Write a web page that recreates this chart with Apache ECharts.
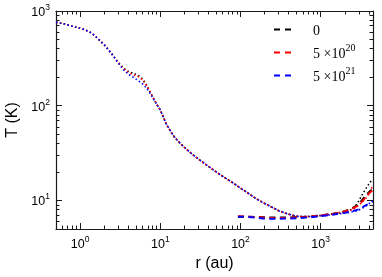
<!DOCTYPE html>
<html><head><meta charset="utf-8">
<script src="https://cdn.jsdelivr.net/npm/echarts@6/dist/echarts.min.js"></script>
<style>html,body{margin:0;padding:0;background:#fff}#c{width:382px;height:277px}</style>
</head><body><div id="c"></div>
<script>
// ---- data (r in au, T in K) ----
const rMain = [0.5, 0.6, 0.75, 0.9, 1.1, 1.3, 1.5, 1.8, 2.1, 2.5, 3.0, 3.5, 4.0, 4.6, 5.3, 6.0, 6.7, 7.4, 8.2, 9.0, 10, 12, 14.5, 17, 20, 25, 30, 38, 46, 55, 68, 80, 100, 120, 150, 190, 240, 300, 380, 500, 650, 800, 1000, 1300, 1600, 2000, 2500, 2900, 3200, 3500, 3850, 4150, 4450];
const tDot0  = [760, 740, 700, 672, 642, 605, 555, 480, 420, 350, 285, 248, 230, 220, 210, 192, 166, 142, 120, 104, 90, 63, 48.5, 41.5, 36.3, 30.8, 27.3, 23.6, 21, 18.9, 16.8, 15.4, 13.5, 12.2, 10.7, 9.5, 8.6, 7.8, 7.25, 6.8, 6.75, 6.8, 6.95, 7.15, 7.35, 7.6, 8.1, 9.4, 11.0, 12.5, 14.2, 15.6, 16.8];
const tDot20 = [760, 740, 700, 672, 642, 605, 555, 480, 420, 350, 285, 246, 224, 212, 203, 188, 165, 142, 120, 104, 90, 63, 48.5, 41.5, 36.3, 30.8, 27.3, 23.6, 21, 18.9, 16.8, 15.4, 13.5, 12.2, 10.7, 9.5, 8.6, 7.8, 7.25, 6.8, 6.75, 6.8, 6.95, 7.15, 7.35, 7.6, 8.0, 8.7, 9.4, 10.1, 11.1, 12.9, 14.0];
const tDot21 = [760, 740, 700, 672, 642, 605, 555, 480, 420, 350, 280, 238, 214, 200, 184, 170, 154, 137, 118, 104, 90, 63, 48.5, 41.5, 36.3, 30.8, 27.3, 23.6, 21, 18.9, 16.8, 15.4, 13.5, 12.2, 10.7, 9.5, 8.6, 7.8, 7.25, 6.8, 6.75, 6.8, 6.9, 7.05, 7.2, 7.35, 7.6, 7.8, 8.2, 8.5, 9.0, 9.5, 9.8];
const rFlat = [93, 120, 150, 190, 240, 300, 380, 500, 650, 800, 1000, 1300, 1600, 2000, 2500, 2900, 3200, 3500, 3850, 4150, 4450];
const tDash0  = [6.75, 6.75, 6.7, 6.65, 6.6, 6.6, 6.6, 6.65, 6.7, 6.8, 6.95, 7.15, 7.35, 7.7, 8.3, 9.0, 9.8, 10.8, 11.8, 12.6, 13.2];
const tDash20 = [6.8, 6.75, 6.7, 6.6, 6.55, 6.55, 6.55, 6.6, 6.7, 6.8, 6.95, 7.15, 7.35, 7.65, 8.2, 8.8, 9.5, 10.4, 11.4, 12.2, 12.8];
const tDash21 = [6.75, 6.7, 6.6, 6.45, 6.4, 6.4, 6.45, 6.5, 6.6, 6.7, 6.85, 7.0, 7.2, 7.4, 7.7, 8.0, 8.3, 8.7, 9.1, 9.5, 9.8];
const legendNames = ['0', '5 ×10^20', '5 ×10^21'];
const legendBase = ['0', '5 ×10', '5 ×10'];
const legendExp = ['', '20', '21'];
const xMajor = [1, 10, 100, 1000];
const yMajor = [10, 100, 1000];
const xRange = [0.5, 4500];
const yRange = [5, 1000];

const L = Math.log10;
function pairs(rs, ts) { return rs.map((r, i) => [L(r), L(ts[i])]); }
function minorLogs(lo, hi) {
  const out = [];
  for (let e = -1; e <= 4; e++) for (let k = 2; k <= 9; k++) {
    const v = k * Math.pow(10, e);
    if (v >= lo && v <= hi) out.push(L(v));
  }
  return out;
}
const AX = '#1a1a1a';
const labelRich = {
  b: { fontFamily: 'Liberation Sans', fontSize: 12.5, lineHeight: 16, verticalAlign: 'bottom', color: '#000' },
  s: { fontFamily: 'Liberation Sans', fontSize: 8.5, lineHeight: 9, verticalAlign: 'top', color: '#000' }
};
function makeAxis(pos, range, majors, major, extra) {
  const lo = L(range[0]), hi = L(range[1]);
  const isMain = (pos === 'bottom' || pos === 'left') && major;
  const ax = {
    type: 'value', min: lo, max: hi, position: pos, gridIndex: 0,
    splitLine: { show: false },
    axisLine: { show: major, onZero: false, lineStyle: { color: AX, width: 1.2 } },
    axisTick: {
      show: true, inside: true, length: major ? 6 : 3.5,
      lineStyle: { color: AX, width: 1 },
      customValues: major ? majors.map(L) : minorLogs(range[0], range[1])
    },
    axisLabel: isMain ? {
      show: true, customValues: majors.map(L), margin: 6,
      formatter: v => '{b|10}{s|' + Math.round(v) + '}', rich: labelRich
    } : { show: false },
    axisPointer: { show: false }
  };
  return Object.assign(ax, extra || {});
}
const nameStyle = { fontFamily: 'Liberation Sans', fontSize: 16, color: '#000' };
const xAxes = [
  makeAxis('bottom', xRange, xMajor, true, { name: 'r (au)', nameLocation: 'middle', nameGap: 25, nameTextStyle: nameStyle }),
  makeAxis('bottom', xRange, xMajor, false),
  makeAxis('top', xRange, xMajor, true),
  makeAxis('top', xRange, xMajor, false)
];
const yAxes = [
  makeAxis('left', yRange, yMajor, true, { name: 'T (K)', nameLocation: 'middle', nameGap: 34, nameTextStyle: nameStyle }),
  makeAxis('left', yRange, yMajor, false),
  makeAxis('right', yRange, yMajor, true),
  makeAxis('right', yRange, yMajor, false)
];
function line(name, rs, ts, color, dashed) {
  return {
    type: 'line', name: name, xAxisIndex: 0, yAxisIndex: 0,
    data: pairs(rs, ts), symbol: 'none', showSymbol: false, silent: true, animation: false,
    lineStyle: dashed ? { color: color, width: 2, type: [6, 4.5] } : { color: color, width: 1.6, type: [1.5, 2.4] },
    itemStyle: { color: color }
  };
}
const chart = echarts.init(document.getElementById('c'), null, { renderer: 'canvas' });
chart.setOption({
  animation: false,
  backgroundColor: '#fff',
  grid: { left: 56, right: 9, top: 11, bottom: 48, containLabel: false, outerBoundsMode: 'none' },
  xAxis: xAxes,
  yAxis: yAxes,
  legend: {
    orient: 'vertical', left: 273, top: 24, padding: 0,
    itemWidth: 17, itemHeight: 14, itemGap: 5,
    data: legendNames,
    itemStyle: { opacity: 0, borderWidth: 0 },
    lineStyle: { width: 2, type: [6, 5] },
    formatter: name => {
      const i = legendNames.indexOf(name);
      return legendExp[i] ? '{t|' + legendBase[i] + '}{s|' + legendExp[i] + '}' : '{t|' + legendBase[i] + '}';
    },
    textStyle: {
      padding: [0, 0, 0, 17],
      rich: {
        t: { fontFamily: 'Liberation Serif', fontSize: 14, lineHeight: 18, verticalAlign: 'bottom', color: '#000' },
        s: { fontFamily: 'Liberation Serif', fontSize: 10, lineHeight: 10, verticalAlign: 'top', color: '#000' }
      }
    }
  },
  series: [
    line('dot0', rMain, tDot0, '#000000', false),
    line('dot20', rMain, tDot20, '#ff0000', false),
    line('dot21', rMain, tDot21, '#0000ff', false),
    line(legendNames[0], rFlat, tDash0, '#000000', true),
    line(legendNames[1], rFlat, tDash20, '#ff0000', true),
    line(legendNames[2], rFlat, tDash21, '#0000ff', true)
  ]
});
</script></body></html>
